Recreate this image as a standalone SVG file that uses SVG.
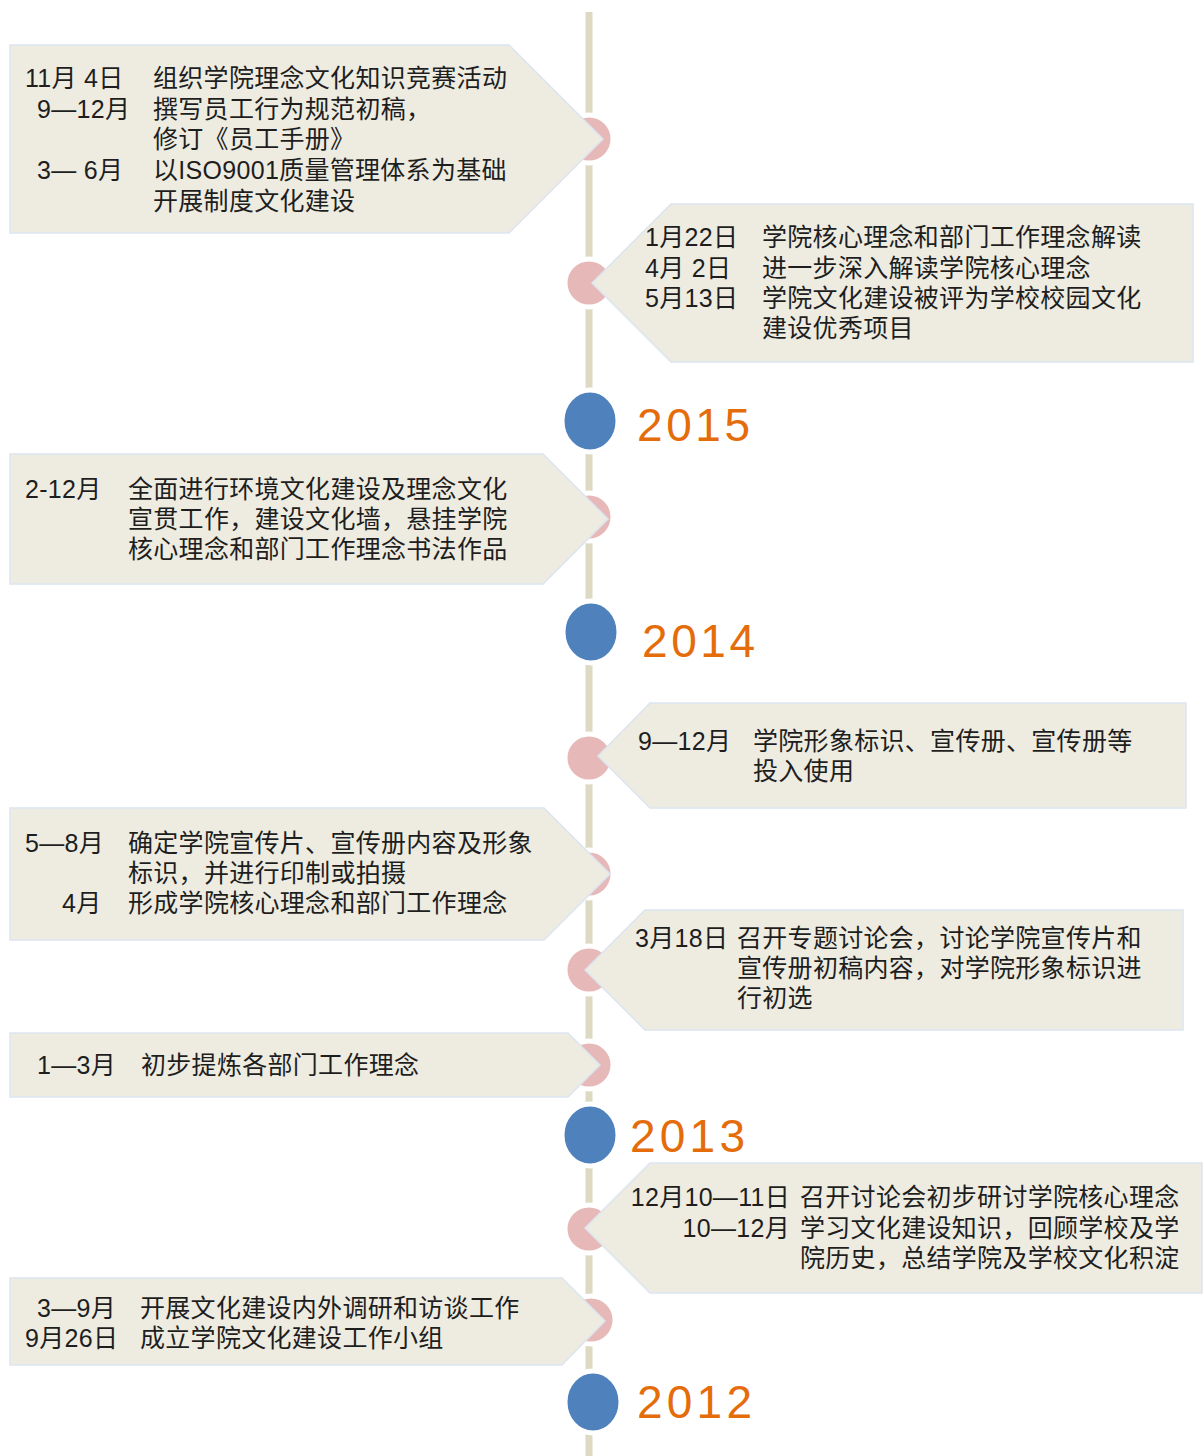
<svg xmlns="http://www.w3.org/2000/svg" width="1203" height="1456" viewBox="0 0 1203 1456">
<style>
.axis{stroke:#ddd9c3;stroke-width:7;fill:none}
.dot{fill:#e6b9b8;stroke:#ffffff;stroke-width:5}
.yr{fill:#4f81bd;stroke:#ffffff;stroke-width:5}
.box{fill:#eeece1;stroke:#dbe5f1;stroke-width:1.5}
.t{font-family:"Liberation Sans","Noto Sans CJK SC",sans-serif;font-size:25px;fill:#1e1e1e;letter-spacing:0.3px}
.y{font-family:"Liberation Sans","DejaVu Sans",sans-serif;font-size:46px;fill:#e46c0a}
</style>
<rect width="1203" height="1456" fill="#ffffff"/>
<g id="connectors">
<line class="axis" x1="589" y1="12" x2="589" y2="1456"/>
</g>
<g id="y2015"><ellipse class="yr" cx="590" cy="421" rx="28" ry="31"/><text class="y" x="637" y="441" textLength="113">2015</text></g>
<g id="y2014"><ellipse class="yr" cx="591" cy="632" rx="28" ry="31"/><text class="y" x="642" y="657" textLength="113">2014</text></g>
<g id="y2013"><ellipse class="yr" cx="590" cy="1135" rx="28" ry="31"/><text class="y" x="630" y="1152" textLength="115">2013</text></g>
<g id="y2012"><ellipse class="yr" cx="593" cy="1402" rx="28" ry="31"/><text class="y" x="637" y="1418" textLength="115">2012</text></g>

<g id="nodeA">
<circle class="dot" cx="589" cy="139" r="24"/>
<polygon class="box" points="10,45 509,45 603,139 509,233 10,233"/>
<text class="t" x="25" y="87">11月 4日</text><text class="t" x="153" y="87">组织学院理念文化知识竞赛活动</text>
<text class="t" x="37" y="118">9—12月</text><text class="t" x="153" y="118">撰写员工行为规范初稿，</text>
<text class="t" x="153" y="148">修订《员工手册》</text>
<text class="t" x="37" y="179">3— 6月</text><text class="t" x="153" y="179">以ISO9001质量管理体系为基础</text>
<text class="t" x="153" y="210">开展制度文化建设</text>
</g>

<g id="nodeB">
<circle class="dot" cx="589" cy="283" r="24"/>
<polygon class="box" points="671,204 1193,204 1193,362 671,362 592,283"/>
<text class="t" x="645" y="246">1月22日</text><text class="t" x="762" y="246">学院核心理念和部门工作理念解读</text>
<text class="t" x="645" y="277">4月 2日</text><text class="t" x="762" y="277">进一步深入解读学院核心理念</text>
<text class="t" x="645" y="307">5月13日</text><text class="t" x="762" y="307">学院文化建设被评为学校校园文化</text>
<text class="t" x="762" y="337">建设优秀项目</text>
</g>

<g id="nodeC">
<circle class="dot" cx="589" cy="517" r="24"/>
<polygon class="box" points="10,454 543,454 608,519 543,584 10,584"/>
<text class="t" x="25" y="498">2-12月</text><text class="t" x="128" y="498">全面进行环境文化建设及理念文化</text>
<text class="t" x="128" y="528">宣贯工作，建设文化墙，悬挂学院</text>
<text class="t" x="128" y="558">核心理念和部门工作理念书法作品</text>
</g>

<g id="nodeD">
<circle class="dot" cx="589" cy="758" r="24"/>
<polygon class="box" points="650,703 1186,703 1186,808 650,808 598,756"/>
<text class="t" x="638" y="750">9—12月</text><text class="t" x="753" y="750">学院形象标识、宣传册、宣传册等</text>
<text class="t" x="753" y="780">投入使用</text>
</g>

<g id="nodeE">
<circle class="dot" cx="589" cy="874" r="24"/>
<polygon class="box" points="10,808 544,808 610,874 544,940 10,940"/>
<text class="t" x="25" y="852">5—8月</text><text class="t" x="128" y="852">确定学院宣传片、宣传册内容及形象</text>
<text class="t" x="128" y="882">标识，并进行印制或拍摄</text>
<text class="t" x="62" y="912">4月</text><text class="t" x="128" y="912">形成学院核心理念和部门工作理念</text>
</g>

<g id="nodeF">
<circle class="dot" cx="589" cy="970" r="24"/>
<polygon class="box" points="645,910 1183,910 1183,1030 645,1030 585,970"/>
<text class="t" x="635" y="947">3月18日</text><text class="t" x="737" y="947">召开专题讨论会，讨论学院宣传片和</text>
<text class="t" x="737" y="977">宣传册初稿内容，对学院形象标识进</text>
<text class="t" x="737" y="1007">行初选</text>
</g>

<g id="nodeG">
<circle class="dot" cx="589" cy="1065" r="24"/>
<polygon class="box" points="10,1033 568,1033 600,1065 568,1097 10,1097"/>
<text class="t" x="37" y="1074">1—3月</text><text class="t" x="141" y="1074">初步提炼各部门工作理念</text>
</g>

<g id="nodeH">
<circle class="dot" cx="589" cy="1229" r="24"/>
<polygon class="box" points="650,1163 1202,1163 1202,1293 650,1293 585,1228"/>
<text class="t" x="790" y="1206" text-anchor="end">12月10—11日</text><text class="t" x="800" y="1206">召开讨论会初步研讨学院核心理念</text>
<text class="t" x="790" y="1237" text-anchor="end">10—12月</text><text class="t" x="800" y="1237">学习文化建设知识，回顾学校及学</text>
<text class="t" x="800" y="1267">院历史，总结学院及学校文化积淀</text>
</g>

<g id="nodeI">
<circle class="dot" cx="591" cy="1320" r="24"/>
<polygon class="box" points="10,1278 562,1278 605,1321 562,1365 10,1365"/>
<text class="t" x="37" y="1317">3—9月</text><text class="t" x="140" y="1317">开展文化建设内外调研和访谈工作</text>
<text class="t" x="25" y="1347">9月26日</text><text class="t" x="140" y="1347">成立学院文化建设工作小组</text>
</g>
</svg>
